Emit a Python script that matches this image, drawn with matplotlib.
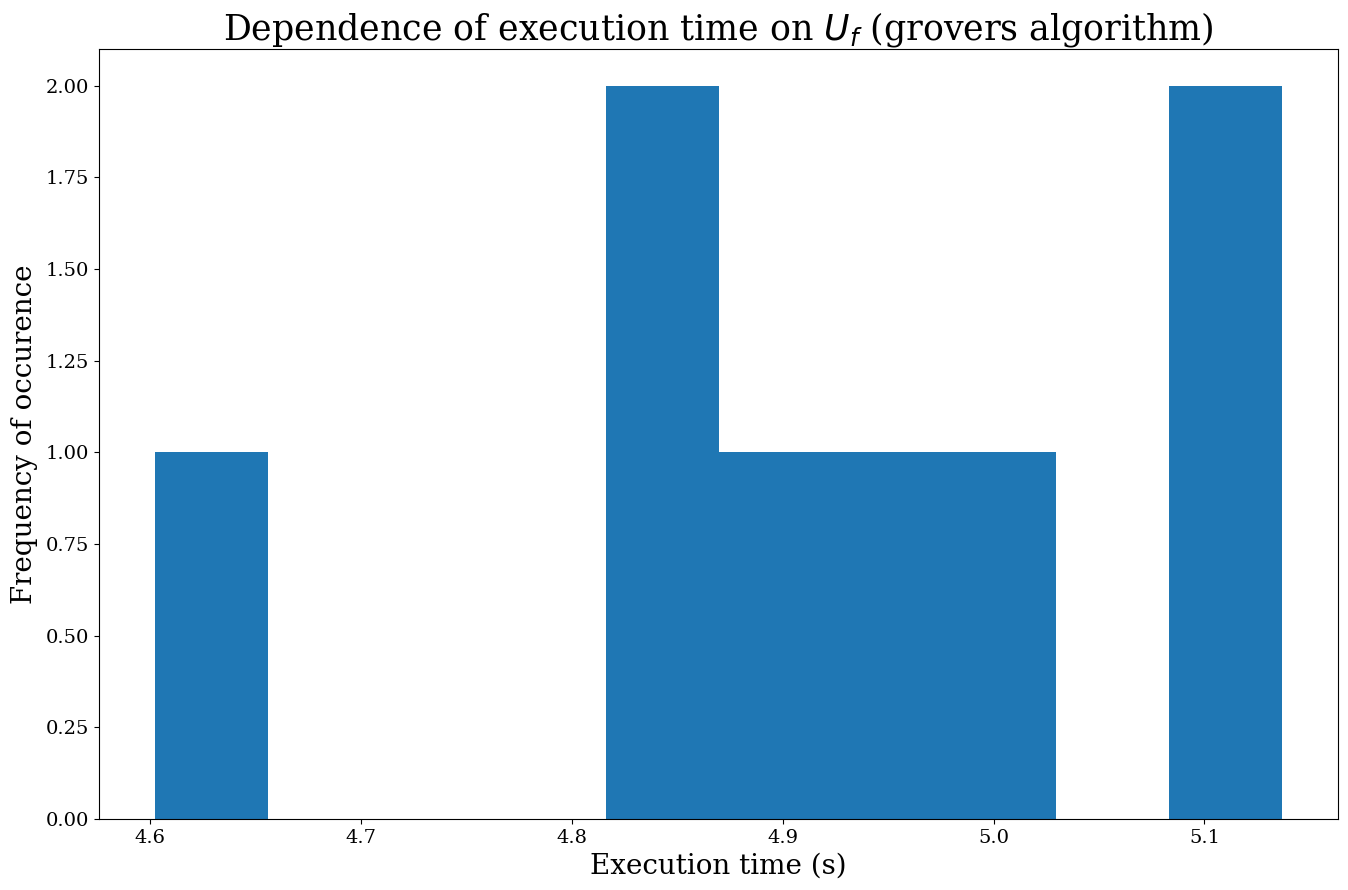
import matplotlib
matplotlib.use("Agg")
import matplotlib.pyplot as plt

# execution times (s)
exec_times = [4.6026, 4.835, 4.851, 4.898, 4.951, 5.004, 5.112, 5.1366]
n_bins = 10

plt.rcParams['font.family'] = ['DejaVu Serif']
plt.rcParams['mathtext.fontset'] = 'dejavusans'

fig = plt.figure(figsize=(13.48, 8.9), dpi=100)
ax = fig.add_axes([99/1348, 1-819/890, (1338-99)/1348, (819-49)/890])
ax.hist(exec_times, bins=n_bins, color='#1f77b4')
ax.set_title('Dependence of execution time on $U_f$ (grovers algorithm)', fontsize=25)
ax.set_xlabel('Execution time (s)', fontsize=20)
ax.set_ylabel('Frequency of occurence', fontsize=20, labelpad=6)
ax.tick_params(labelsize=14)
ax.set_yticks([0, 0.25, 0.5, 0.75, 1.0, 1.25, 1.5, 1.75, 2.0])
ax.set_yticklabels([f'{v:.2f}' for v in [0, 0.25, 0.5, 0.75, 1.0, 1.25, 1.5, 1.75, 2.0]])
fig.savefig('out.png', dpi=100)
